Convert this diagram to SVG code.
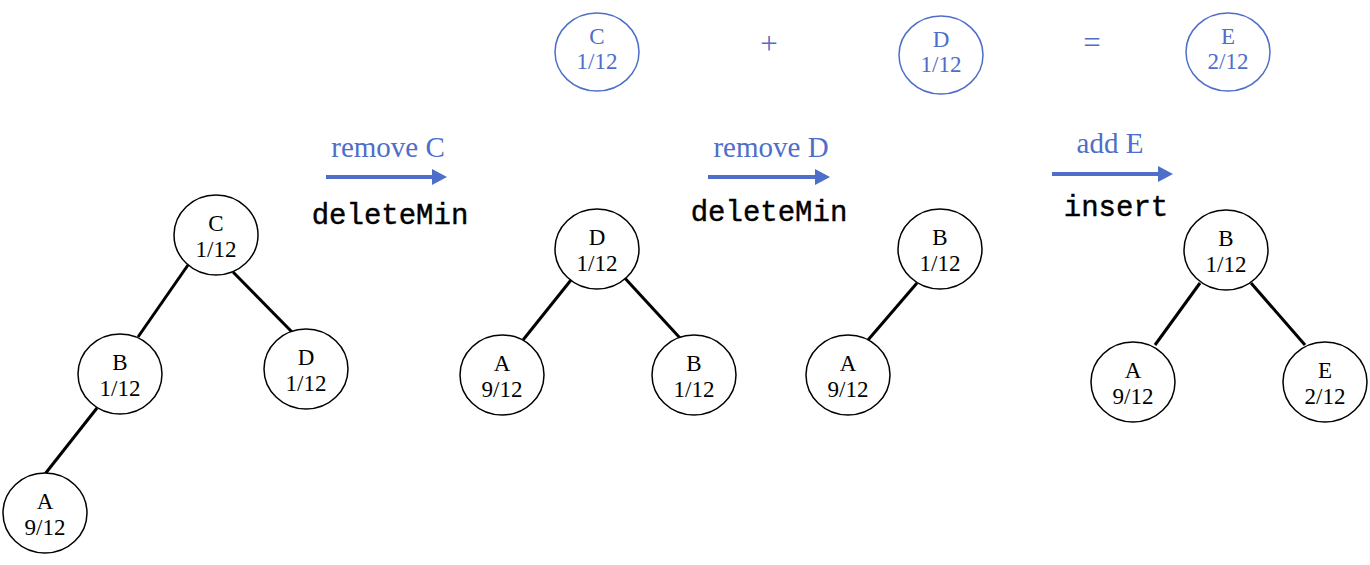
<svg xmlns="http://www.w3.org/2000/svg" width="1370" height="565" viewBox="0 0 1370 565">
  <style>
    .node ellipse { fill: #ffffff; stroke: #000000; stroke-width: 1.5; }
    .node text { font-family: "Liberation Serif", "Times New Roman", serif; font-size: 23px; fill: #000000; text-anchor: middle; }
    .sum ellipse { fill: #ffffff; stroke: #4e6ec9; stroke-width: 1.5; }
    .sum text { font-family: "Liberation Serif", "Times New Roman", serif; font-size: 23px; fill: #4e6ec9; text-anchor: middle; }
    .edge { stroke: #000000; stroke-width: 3; stroke-linecap: butt; }
    .op { stroke: #4e6ec9; stroke-width: 4; }
    .head { fill: #4e6ec9; }
    .oplabel { font-family: "Liberation Serif", "Times New Roman", serif; font-size: 29px; fill: #4e6ec9; text-anchor: middle; }
    .code { font-family: "Liberation Mono", "Courier New", monospace; font-size: 29px; fill: #000000; stroke: #000000; stroke-width: 0.4; text-anchor: middle; }
    .sym { font-family: "Liberation Serif", "Times New Roman", serif; font-size: 31px; fill: #4e6ec9; text-anchor: middle; }
  </style>

  <!-- tree edges -->
  <g id="connectors">
    <line class="edge" x1="188" y1="265" x2="138" y2="337"/>
    <line class="edge" x1="233" y1="272" x2="292" y2="332"/>
    <line class="edge" x1="97" y1="408" x2="45" y2="474"/>

    <line class="edge" x1="575" y1="275" x2="523" y2="340"/>
    <line class="edge" x1="622" y1="275" x2="680" y2="338"/>

    <line class="edge" x1="917" y1="283" x2="868" y2="340"/>

    <line class="edge" x1="1200" y1="283" x2="1155" y2="345"/>
    <line class="edge" x1="1251" y1="283" x2="1305" y2="345"/>
  </g>

  <!-- operation arrows with labels -->
  <g id="op-delete-c">
    <line class="op" x1="326" y1="177" x2="433" y2="177"/>
    <polygon class="head" points="432,169 447,177 432,185"/>
    <text class="oplabel" x="388" y="157">remove C</text>
    <text class="code" x="390" y="224">deleteMin</text>
  </g>
  <g id="op-delete-d">
    <line class="op" x1="708" y1="177" x2="816" y2="177"/>
    <polygon class="head" points="815,169 830,177 815,185"/>
    <text class="oplabel" x="771" y="157">remove D</text>
    <text class="code" x="769" y="221">deleteMin</text>
  </g>
  <g id="op-insert-e">
    <line class="op" x1="1052" y1="174" x2="1159" y2="174"/>
    <polygon class="head" points="1158,166 1173,174 1158,182"/>
    <text class="oplabel" x="1110" y="153">add E</text>
    <text class="code" x="1116" y="216">insert</text>
  </g>

  <!-- merge step: C + D = E -->
  <g id="sum-c" class="sum">
    <ellipse cx="597" cy="52" rx="42" ry="39"/>
    <text x="597" y="44">C</text>
    <text x="597" y="69">1/12</text>
  </g>
  <text id="plus" class="sym" x="769" y="54">+</text>
  <g id="sum-d" class="sum">
    <ellipse cx="941" cy="55" rx="42" ry="39"/>
    <text x="941" y="47">D</text>
    <text x="941" y="72">1/12</text>
  </g>
  <text id="equals" class="sym" x="1092" y="53">=</text>
  <g id="sum-e" class="sum">
    <ellipse cx="1228" cy="52" rx="42" ry="39"/>
    <text x="1228" y="44">E</text>
    <text x="1228" y="69">2/12</text>
  </g>

  <!-- tree 1 -->
  <g id="t1-c" class="node">
    <ellipse cx="216" cy="235" rx="42" ry="40"/>
    <text x="216" y="231">C</text>
    <text x="216" y="257">1/12</text>
  </g>
  <g id="t1-b" class="node">
    <ellipse cx="120" cy="374" rx="42" ry="40"/>
    <text x="120" y="370">B</text>
    <text x="120" y="396">1/12</text>
  </g>
  <g id="t1-d" class="node">
    <ellipse cx="306" cy="369" rx="42" ry="40"/>
    <text x="306" y="365">D</text>
    <text x="306" y="391">1/12</text>
  </g>
  <g id="t1-a" class="node">
    <ellipse cx="45" cy="513" rx="42" ry="40"/>
    <text x="45" y="509">A</text>
    <text x="45" y="535">9/12</text>
  </g>

  <!-- tree 2 -->
  <g id="t2-d" class="node">
    <ellipse cx="597" cy="249" rx="42" ry="40"/>
    <text x="597" y="245">D</text>
    <text x="597" y="271">1/12</text>
  </g>
  <g id="t2-a" class="node">
    <ellipse cx="502" cy="375" rx="42" ry="40"/>
    <text x="502" y="371">A</text>
    <text x="502" y="397">9/12</text>
  </g>
  <g id="t2-b" class="node">
    <ellipse cx="694" cy="375" rx="42" ry="40"/>
    <text x="694" y="371">B</text>
    <text x="694" y="397">1/12</text>
  </g>

  <!-- tree 3 -->
  <g id="t3-b" class="node">
    <ellipse cx="940" cy="249" rx="42" ry="40"/>
    <text x="940" y="245">B</text>
    <text x="940" y="271">1/12</text>
  </g>
  <g id="t3-a" class="node">
    <ellipse cx="848" cy="375" rx="42" ry="40"/>
    <text x="848" y="371">A</text>
    <text x="848" y="397">9/12</text>
  </g>

  <!-- tree 4 -->
  <g id="t4-b" class="node">
    <ellipse cx="1226" cy="250" rx="42" ry="40"/>
    <text x="1226" y="246">B</text>
    <text x="1226" y="272">1/12</text>
  </g>
  <g id="t4-a" class="node">
    <ellipse cx="1133" cy="382" rx="42" ry="40"/>
    <text x="1133" y="378">A</text>
    <text x="1133" y="404">9/12</text>
  </g>
  <g id="t4-e" class="node">
    <ellipse cx="1325" cy="382" rx="42" ry="40"/>
    <text x="1325" y="378">E</text>
    <text x="1325" y="404">2/12</text>
  </g>
</svg>
